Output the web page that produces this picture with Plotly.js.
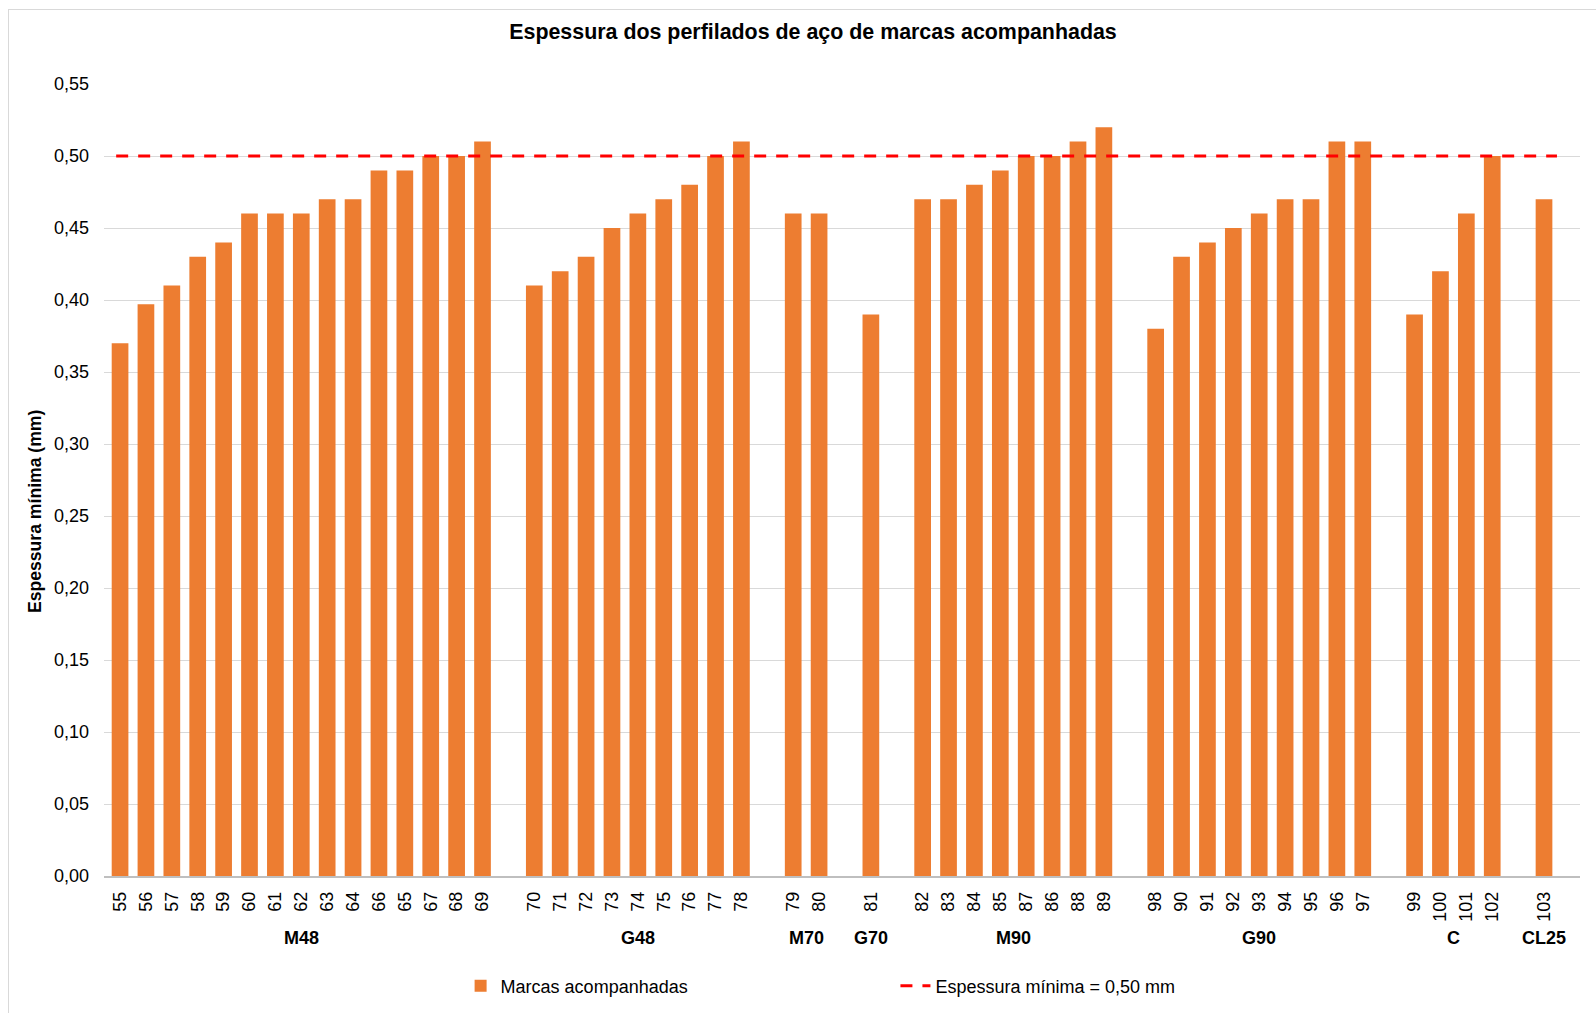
<!DOCTYPE html>
<html>
<head>
<meta charset="utf-8">
<script src="https://cdn.plot.ly/plotly-3.0.1.min.js"></script>
<style>
  html, body { margin: 0; padding: 0; background: #ffffff; overflow: hidden; }
  #chart { width: 1596px; height: 1013px; }
  #frame { position: absolute; left: 8px; top: 9px; width: 1700px; height: 1100px;
           border: 1px solid #d9d9d9; pointer-events: none; }
</style>
</head>
<body>
<div id="chart"></div>
<div id="frame"></div>
<script>
// Sample numbers (tick labels) and minimum thickness (mm) per profile family
const groupNames = ['M48', 'G48', 'M70', 'G70', 'M90', 'G90', 'C', 'CL25'];

const m48Samples   = ['55', '56', '57', '58', '59', '60', '61', '62', '63', '64', '66', '65', '67', '68', '69'];
const m48Thickness = [0.37, 0.397, 0.41, 0.43, 0.44, 0.46, 0.46, 0.46, 0.47, 0.47, 0.49, 0.49, 0.50, 0.50, 0.51];

const g48Samples   = ['70', '71', '72', '73', '74', '75', '76', '77', '78'];
const g48Thickness = [0.41, 0.42, 0.43, 0.45, 0.46, 0.47, 0.48, 0.50, 0.51];

const m70Samples   = ['79', '80'];
const m70Thickness = [0.46, 0.46];

const g70Samples   = ['81'];
const g70Thickness = [0.39];

const m90Samples   = ['82', '83', '84', '85', '87', '86', '88', '89'];
const m90Thickness = [0.47, 0.47, 0.48, 0.49, 0.50, 0.50, 0.51, 0.52];

const g90Samples   = ['98', '90', '91', '92', '93', '94', '95', '96', '97'];
const g90Thickness = [0.38, 0.43, 0.44, 0.45, 0.46, 0.47, 0.47, 0.51, 0.51];

const cSamples     = ['99', '100', '101', '102'];
const cThickness   = [0.39, 0.42, 0.46, 0.50];

const cl25Samples   = ['103'];
const cl25Thickness = [0.47];

const minThickness = 0.50;

// Lay the families side by side with one empty slot between them
const groupSamples   = [m48Samples, g48Samples, m70Samples, g70Samples, m90Samples, g90Samples, cSamples, cl25Samples];
const groupThickness = [m48Thickness, g48Thickness, m70Thickness, g70Thickness, m90Thickness, g90Thickness, cThickness, cl25Thickness];

const slotX = [], slotText = [], slotY = [], groupCenters = [];
let slot = 0;
groupSamples.forEach((samples, gi) => {
  const first = slot;
  samples.forEach((s, i) => {
    slotX.push(slot);
    slotText.push(s);
    slotY.push(groupThickness[gi][i]);
    slot++;
  });
  groupCenters.push((first + slot - 1) / 2);
  slot++;
});

const firstX = slotX[0];
const lastX = slotX[slotX.length - 1];
const FONT = 'Liberation Sans, Arial, sans-serif';

const bars = {
  type: 'bar',
  name: 'Marcas acompanhadas',
  x: slotX,
  y: slotY,
  marker: { color: '#ED7D31' },
  legend: 'legend',
  hovertemplate: '%{text}: %{y:.2f} mm<extra></extra>',
  text: slotText,
  textposition: 'none'
};

const limitLine = {
  type: 'scatter',
  mode: 'lines',
  name: 'Espessura mínima = 0,50 mm',
  x: [firstX - 0.15, lastX + 0.5],
  y: [minThickness, minThickness],
  line: { color: '#FF0000', width: 3, dash: '12px,10px' },
  legend: 'legend2',
  hoverinfo: 'skip'
};

// Family names centred under each group of bars
const groupLabels = groupNames.map((g, i) => ({
  text: '<b>' + g + '</b>',
  x: groupCenters[i],
  xref: 'x',
  y: -0.078,
  yref: 'paper',
  xanchor: 'center',
  yanchor: 'middle',
  showarrow: false,
  font: { family: FONT, size: 18, color: '#000000' }
}));

// Vertical axis caption
const yCaption = {
  text: '<b>Espessura mínima (mm)</b>',
  textangle: -90,
  x: -0.0472,
  xref: 'paper',
  y: 0.46,
  yref: 'paper',
  xanchor: 'center',
  yanchor: 'middle',
  showarrow: false,
  font: { family: FONT, size: 17.6, color: '#000000' }
};

const layout = {
  width: 1596,
  height: 1013,
  paper_bgcolor: '#ffffff',
  plot_bgcolor: '#ffffff',
  separators: ',.',
  margin: { l: 104, r: 16, t: 84.3, b: 136.7, pad: 0, autoexpand: false },
  bargap: 0.355,
  font: { family: FONT, size: 18, color: '#000000' },
  title: {
    text: '<b>Espessura dos perfilados de aço de marcas acompanhadas</b>',
    font: { family: FONT, size: 21.4, color: '#000000' },
    x: 0.5094, xref: 'container', xanchor: 'center',
    y: 0.969, yref: 'container', yanchor: 'middle'
  },
  xaxis: {
    type: 'linear',
    range: [firstX - 0.62, lastX + 1.39],
    tickmode: 'array',
    tickvals: slotX,
    ticktext: slotText,
    tickangle: -90,
    ticks: '',
    ticklabelstandoff: 7,
    tickfont: { family: FONT, size: 18, color: '#000000' },
    showgrid: false,
    zeroline: false,
    showline: true,
    linecolor: '#bfbfbf',
    linewidth: 1.5,
    automargin: false,
    fixedrange: true
  },
  yaxis: {
    range: [0, 0.55],
    dtick: 0.05,
    tick0: 0,
    tickformat: '.2f',
    ticks: '',
    ticklabelstandoff: 14,
    tickfont: { family: FONT, size: 18, color: '#000000' },
    showgrid: true,
    gridcolor: '#d9d9d9',
    gridwidth: 1,
    zeroline: false,
    showline: false,
    automargin: false,
    fixedrange: true
  },
  showlegend: true,
  legend: {
    orientation: 'v',
    x: 0.2416, xanchor: 'left',
    y: -0.139, yanchor: 'middle',
    bgcolor: 'rgba(0,0,0,0)',
    font: { family: FONT, size: 18, color: '#000000' }
  },
  legend2: {
    orientation: 'v',
    x: 0.5362, xanchor: 'left',
    y: -0.139, yanchor: 'middle',
    bgcolor: 'rgba(0,0,0,0)',
    font: { family: FONT, size: 18, color: '#000000' }
  },
  annotations: groupLabels.concat([yCaption])
};

Plotly.newPlot('chart', [bars, limitLine], layout, { displayModeBar: false, staticPlot: true });
</script>
</body>
</html>
